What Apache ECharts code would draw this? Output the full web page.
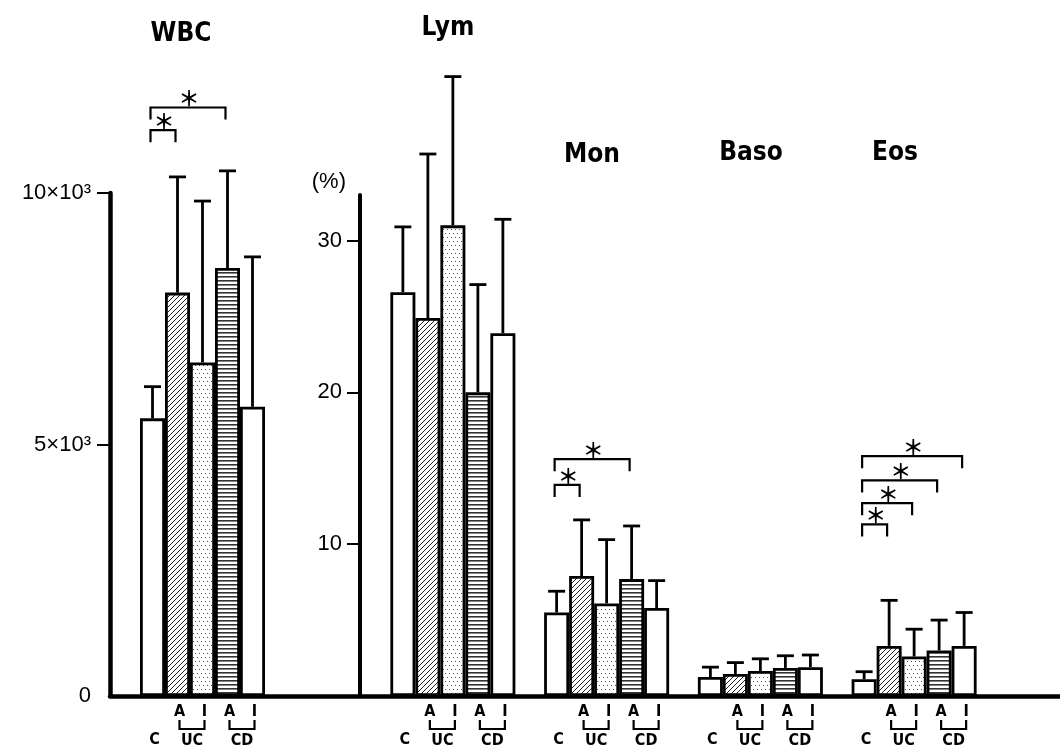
<!DOCTYPE html>
<html>
<head>
<meta charset="utf-8">
<script src="https://cdn.jsdelivr.net/npm/echarts@6/dist/echarts.min.js"></script>
<style>
  html, body { margin: 0; padding: 0; background: #fff; }
  #chart { width: 1060px; height: 746px; }
</style>
</head>
<body>
<div id="chart"></div>
<script>
// ---- data ----
// bar order in every group: C, UC active, UC inactive, CD active, CD inactive
var barNames = ["C", "UC-A", "UC-I", "CD-A", "CD-I"];

var wbcGroups = ["WBC"];
var wbcMean = [5520, 8020, 6630, 8510, 5750];
var wbcSD = [630, 2300, 3210, 1930, 2980];

var pctGroups = ["Lym", "Mon", "Baso", "Eos"];
var lymMean = [26.6, 24.9, 31.0, 20.0, 23.9];
var lymSD = [4.3, 10.8, 9.8, 7.1, 7.5];
var monMean = [5.5, 7.9, 6.1, 7.7, 5.8];
var monSD = [1.4, 3.7, 4.2, 3.5, 1.8];
var basoMean = [1.25, 1.45, 1.65, 1.85, 1.9];
var basoSD = [0.65, 0.75, 0.8, 0.8, 0.8];
var eosMean = [1.1, 3.3, 2.6, 3.0, 3.3];
var eosSD = [0.5, 3.0, 1.8, 2.0, 2.2];

// significance brackets: [group index, from bar, to bar, level]
var wbcSig = [[0, 0, 1, 11250], [0, 0, 3, 11700]];
var pctSig = [
  [1, 0, 1, 13.9], [1, 0, 3, 15.6],
  [3, 0, 1, 11.3], [3, 0, 2, 12.7], [3, 0, 3, 14.2], [3, 0, 4, 15.8]
];

var yLeftTicks = [0, 5000, 10000];
var yRightTicks = [10, 20, 30];

// ---- styling helpers ----
var BAR_W = 25;
var NARROW = "'Liberation Sans Narrow', 'DejaVu Sans Condensed', 'Liberation Sans', sans-serif";
var TICKFONT = "'Liberation Sans', sans-serif";

function pattern(kind) {
  var c = document.createElement("canvas");
  var ctx;
  if (kind === "diag") {
    c.width = c.height = 5;
    ctx = c.getContext("2d");
    ctx.fillStyle = "#fff"; ctx.fillRect(0, 0, 5, 5);
    ctx.strokeStyle = "#222"; ctx.lineWidth = 1;
    ctx.beginPath();
    ctx.moveTo(0, 5); ctx.lineTo(5, 0);
    ctx.moveTo(-1, 1); ctx.lineTo(1, -1);
    ctx.moveTo(4, 6); ctx.lineTo(6, 4);
    ctx.stroke();
  } else if (kind === "dots") {
    c.width = c.height = 8;
    ctx = c.getContext("2d");
    ctx.fillStyle = "#fff"; ctx.fillRect(0, 0, 8, 8);
    ctx.fillStyle = "#555";
    ctx.fillRect(1, 1, 1, 1); ctx.fillRect(5, 1, 1, 1);
    ctx.fillRect(3, 5, 1, 1); ctx.fillRect(7, 5, 1, 1);
  } else {
    c.width = c.height = 4;
    ctx = c.getContext("2d");
    ctx.fillStyle = "#fff"; ctx.fillRect(0, 0, 4, 4);
    ctx.fillStyle = "#333"; ctx.fillRect(0, 0, 4, 1.6);
  }
  return { image: c, repeat: "repeat" };
}
var fills = ["#fff", pattern("diag"), pattern("dots"), pattern("horiz"), "#fff"];

// ---- build series ----
var pctMeans = [lymMean, monMean, basoMean, eosMean];
var pctSDs = [lymSD, monSD, basoSD, eosSD];

function barSeries(axis, valuesByBar) {
  return barNames.map(function (name, i) {
    return {
      name: name,
      type: "bar",
      xAxisIndex: axis,
      yAxisIndex: axis,
      barWidth: BAR_W,
      barGap: "0%",
      itemStyle: { color: fills[i], borderColor: "#000", borderWidth: 2.8 },
      z: 2,
      data: valuesByBar(i)
    };
  });
}

function barX(api, cat, idx) {
  return api.coord([cat, 0])[0] + (idx - 2) * BAR_W;
}

function errData(means, sds) {
  var out = [];
  means.forEach(function (m, g) {
    m.forEach(function (v, i) { out.push([g, v, sds[g][i], i]); });
  });
  return out;
}

function renderErr(params, api) {
  var cat = api.value(0), idx = api.value(3);
  var x = barX(api, cat, idx);
  var y0 = api.coord([cat, api.value(1)])[1];
  var y1 = api.coord([cat, api.value(1) + api.value(2)])[1];
  var st = { stroke: "#000", lineWidth: 2.8 };
  return {
    type: "group",
    children: [
      { type: "line", shape: { x1: x, y1: y0, x2: x, y2: y1 }, style: st },
      { type: "line", shape: { x1: x - 8.5, y1: y1, x2: x + 8.5, y2: y1 }, style: st }
    ]
  };
}

function renderSig(params, api) {
  var cat = api.value(0);
  var xa = barX(api, cat, api.value(1)) - 2;
  var xb = barX(api, cat, api.value(2)) - 2;
  var y = api.coord([cat, api.value(3)])[1];
  return {
    type: "group",
    children: [
      { type: "polyline", shape: { points: [[xa, y + 12], [xa, y], [xb, y], [xb, y + 12]] },
        style: { stroke: "#000", lineWidth: 2.2, fill: null } },
      { type: "text", style: { text: "\uFF0A", x: (xa + xb) / 2 + 1, y: y - 9,
        align: "center", verticalAlign: "middle", fill: "#000",
        font: "bold 21px 'Noto Sans CJK JP', sans-serif" } }
    ]
  };
}

function renderLabels(params, api) {
  var cat = api.value(0);
  var yb = api.coord([cat, 0])[1];
  var small = "bold 16px " + NARROW;
  function txt(t, x, y) {
    return { type: "text", style: { text: t, x: x, y: y, align: "center",
      verticalAlign: "middle", fill: "#000", font: small } };
  }
  var kids = [txt(barNames[0], barX(api, cat, 0) + 2, yb + 44)];
  [[1, 2, "UC"], [3, 4, "CD"]].forEach(function (p) {
    var xa = barX(api, cat, p[0]) + 2, xi = barX(api, cat, p[1]) + 2;
    kids.push(txt("A", xa, yb + 16));
    kids.push(txt("I", xi, yb + 16));
    kids.push({ type: "polyline", shape: { points: [[xa, yb + 24], [xa, yb + 33], [xi, yb + 33], [xi, yb + 24]] },
      style: { stroke: "#000", lineWidth: 2.2, fill: null } });
    kids.push(txt(p[2], (xa + xi) / 2, yb + 45));
  });
  return { type: "group", children: kids };
}

var series = []
  .concat(barSeries(0, function (i) { return [wbcMean[i]]; }))
  .concat(barSeries(1, function (i) { return pctMeans.map(function (m) { return m[i]; }); }))
  .concat([
    { type: "custom", xAxisIndex: 0, yAxisIndex: 0, z: 3, clip: false,
      renderItem: renderErr, encode: { x: 0, y: 1 }, data: errData([wbcMean], [wbcSD]) },
    { type: "custom", xAxisIndex: 1, yAxisIndex: 1, z: 3, clip: false,
      renderItem: renderErr, encode: { x: 0, y: 1 }, data: errData(pctMeans, pctSDs) },
    { type: "custom", xAxisIndex: 0, yAxisIndex: 0, z: 3, clip: false,
      renderItem: renderSig, encode: { x: 0, y: 3 }, data: wbcSig },
    { type: "custom", xAxisIndex: 1, yAxisIndex: 1, z: 3, clip: false,
      renderItem: renderSig, encode: { x: 0, y: 3 }, data: pctSig },
    { type: "custom", xAxisIndex: 0, yAxisIndex: 0, z: 3, clip: false,
      renderItem: renderLabels, encode: { x: 0, y: 1 },
      data: wbcGroups.map(function (g, i) { return [i, 0]; }) },
    { type: "custom", xAxisIndex: 1, yAxisIndex: 1, z: 3, clip: false,
      renderItem: renderLabels, encode: { x: 0, y: 1 },
      data: pctGroups.map(function (g, i) { return [i, 0]; }) }
  ]);

var catAxis = function (idx, cats) {
  return { type: "category", gridIndex: idx, data: cats, boundaryGap: true,
    axisLine: { show: false }, axisTick: { show: false }, axisLabel: { show: false } };
};

function titleText(t, x, y) {
  return { type: "text", x: x, y: y, style: { text: t, align: "center", verticalAlign: "middle",
    font: "bold 26px " + NARROW, fill: "#000" } };
}

var option = {
  animation: false,
  backgroundColor: "#fff",
  grid: [
    { left: 110, top: 193, width: 185, bottom: 50 },
    { left: 376, top: 195, right: 69, bottom: 50 },
    { left: 110, top: 193, right: 0, bottom: 50 }
  ],
  xAxis: [
    catAxis(0, wbcGroups),
    catAxis(1, pctGroups),
    { type: "value", gridIndex: 2, min: 0, max: 1,
      axisLine: { show: true, lineStyle: { color: "#000", width: 4.5 } },
      axisTick: { show: false }, axisLabel: { show: false }, splitLine: { show: false } }
  ],
  yAxis: [
    { type: "value", gridIndex: 0, min: 0, max: 10000, interval: 5000,
      axisLine: { show: true, lineStyle: { color: "#000", width: 4.5 } },
      axisTick: { show: true, length: 13, customValues: [5000, 10000], lineStyle: { color: "#000", width: 2 } },
      axisLabel: { margin: 19, color: "#000", fontSize: 22, fontFamily: TICKFONT,
        customValues: yLeftTicks,
        formatter: function (v) { return v === 0 ? "0" : (v / 1000) + "\u00D710\u00B3"; } },
      splitLine: { show: false } },
    { type: "value", gridIndex: 1, min: 0, max: 33, interval: 10, offset: 16,
      name: "(%)", nameLocation: "end", nameGap: 2,
      nameTextStyle: { color: "#000", fontSize: 22, fontFamily: TICKFONT,
        align: "right", verticalAlign: "bottom", padding: [0, 14, 0, 0] },
      axisLine: { show: true, lineStyle: { color: "#000", width: 4 } },
      axisTick: { show: true, length: 13, customValues: yRightTicks, lineStyle: { color: "#000", width: 2 } },
      axisLabel: { margin: 18, color: "#000", fontSize: 22, fontFamily: TICKFONT,
        customValues: yRightTicks },
      splitLine: { show: false } },
    { type: "value", gridIndex: 2, show: false }
  ],
  graphic: [
    titleText(wbcGroups[0], 181, 34),
    titleText(pctGroups[0], 448, 28),
    titleText(pctGroups[1], 592, 155),
    titleText(pctGroups[2], 751, 153),
    titleText(pctGroups[3], 895, 153)
  ],
  series: series
};

var chart = echarts.init(document.getElementById("chart"), null, { renderer: "canvas" });
chart.setOption(option);
</script>
</body>
</html>
